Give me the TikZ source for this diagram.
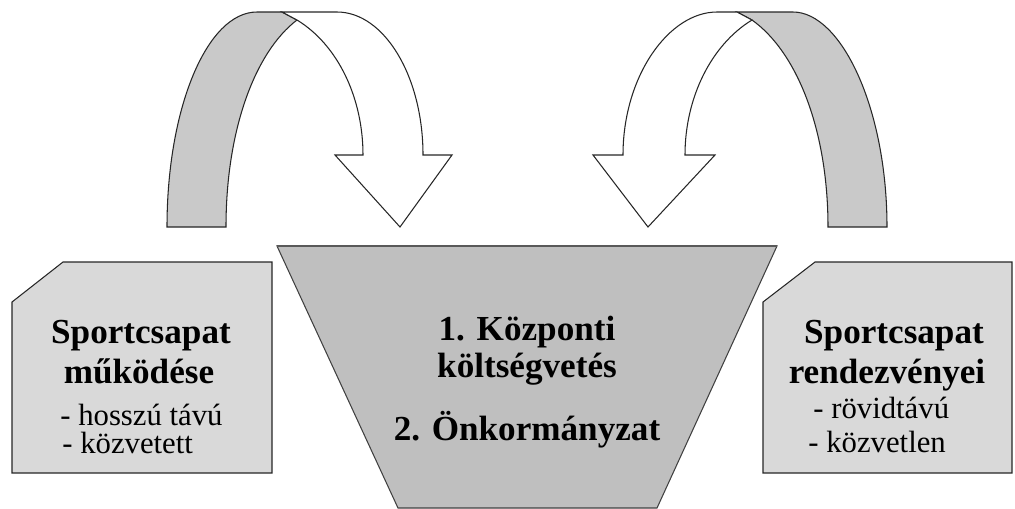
\documentclass[tikz,border=0pt]{standalone}
\usepackage{fontspec}
\setmainfont{Liberation Serif}
\begin{document}
\begin{tikzpicture}[x=0.02cm, y=-0.02cm,
  outline/.style={draw=black!85, line width=0.6pt, line join=miter},
  band/.style={outline, fill=black!21},
  hollow/.style={outline, fill=white},
  card/.style={outline, fill=black!15},
  funnel/.style={draw=black!75, line width=0.6pt, fill=black!25},
  headtext/.style={anchor=base, font=\fontsize{20}{23}\selectfont\bfseries, inner sep=0pt},
  itemtext/.style={anchor=base west, font=\fontsize{17.5}{20}\selectfont, inner sep=0pt}
]
\useasboundingbox (0,0) rectangle (1015,508);

% left curved arrow: shaded back band and white front with arrow head
\path[band] (167,227) .. controls (167,108) and (207,12) .. (257,12) -- (282,12) -- (297,20)
  .. controls (255,52) and (226,130) .. (226,227) -- cycle;
\path[hollow] (282,12) -- (337,12) .. controls (384,12) and (423,76) .. (423,155)
  -- (452,155) -- (400,227) -- (335,155) -- (363,155)
  .. controls (363,98) and (338,45) .. (297,20) -- cycle;

% right curved arrow, mirrored
\path[band] (737,12) -- (793,12) .. controls (841,12) and (887,108) .. (887,227)
  -- (828,227) .. controls (828,130) and (797,52) .. (752,20) -- cycle;
\path[hollow] (737,12) -- (717,12) .. controls (669,12) and (623,76) .. (623,155)
  -- (593,155) -- (648,227) -- (715,155) -- (685,155)
  .. controls (685,98) and (711,45) .. (752,20) -- cycle;

% side cards with a clipped corner
\path[card] (63,262) -- (272,262) -- (272,473) -- (12,473) -- (12,302) -- cycle;
\path[card] (815,262) -- (1012,262) -- (1012,473) -- (763,473) -- (763,302) -- cycle;

% central funnel
\path[funnel] (277,246) -- (777,246) -- (657,508) -- (398,508) -- cycle;
\draw[black!65, line width=1.3pt] (277,246) -- (777,246);

% left card text
\node[headtext] (l1) at (141,343) {Sportcsapat};
\node[headtext] (l2) at (139,383) {működése};
\node[itemtext] (l3) at (60,425) {- hosszú távú};
\node[itemtext] (l4) at (62,453) {- közvetett};

% right card text
\node[headtext] (r1) at (894,343) {Sportcsapat};
\node[headtext] (r2) at (887,383) {rendezvényei};
\node[itemtext] (r3) at (813,418) {- rövidtávú};
\node[itemtext] (r4) at (808,452) {- közvetlen};

% funnel text
\node[headtext] (c1) at (527,340) {1. Központi};
\node[headtext] (c2) at (527,377) {költségvetés};
\node[headtext] (c3) at (527,440) {2. Önkormányzat};
\end{tikzpicture}
\end{document}
